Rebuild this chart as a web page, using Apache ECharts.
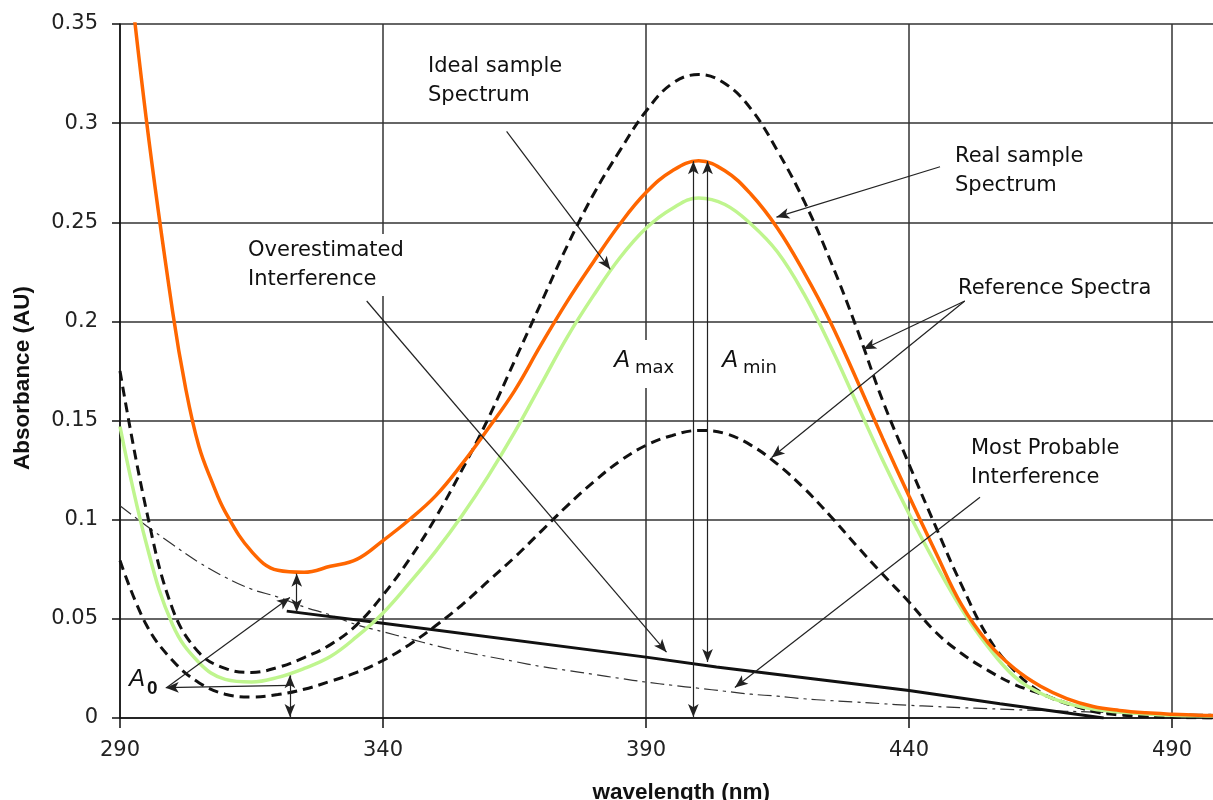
<!DOCTYPE html>
<html><head><meta charset="utf-8">
<script src="https://cdn.jsdelivr.net/npm/echarts@6/dist/echarts.min.js"></script>
<style>html,body{margin:0;padding:0;background:#fff}#c{width:1213px;height:800px}</style>
</head><body><div id="c"></div>
<script>
// ---- data (wavelength nm, absorbance AU) ----
const wavelengths = [290,295,300,305,310,315,320,325,330,335,340,345,350,355,360,365,370,375,380,385,390,395,400,405,410,415,420,425,430,435,440,445,450,455,460,465,470,475,480,485,490,495,500];

const realWl       = [290,295,300,302.5,305,307.5,310,315,320,325,330,335,340,345,350,355,360,365,370,375,380,385,390,395,400,405,410,415,420,425,430,435,440,445,450,455,460,465,470,475,480,485,490,495,500];
const realSample   = [0.42,0.302,0.205,0.166,0.137,0.119,0.104,0.084,0.0745,0.0735,0.0765,0.080,0.0895,0.100,0.112,0.128,0.146,0.165,0.188,0.210,0.230,0.249,0.265,0.276,0.281,0.276,0.264,0.247,0.225,0.200,0.171,0.141,0.112,0.084,0.057,0.038,0.025,0.016,0.0098,0.0058,0.0038,0.0026,0.0019,0.0014,0.0012];

const idealSample  = [0.147,0.088,0.047,0.028,0.0195,0.0182,0.0205,0.025,0.031,0.041,0.053,0.068,0.084,0.102,0.122,0.144,0.168,0.192,0.213,0.232,0.247,0.257,0.2623,0.259,0.249,0.235,0.214,0.188,0.159,0.130,0.103,0.078,0.055,0.036,0.021,0.0125,0.0075,0.0045,0.003,0.002,0.0014,0.0011,0.001];

const refHigh      = [0.175,0.105,0.055,0.033,0.025,0.023,0.0255,0.0305,0.037,0.047,0.062,0.080,0.101,0.125,0.151,0.180,0.209,0.238,0.264,0.286,0.306,0.320,0.3245,0.320,0.307,0.286,0.261,0.231,0.197,0.160,0.128,0.097,0.067,0.041,0.024,0.013,0.0072,0.0038,0.002,0.001,0.0005,0.0002,0.0];

const refLow       = [0.0794,0.047,0.029,0.0178,0.012,0.0106,0.0118,0.0145,0.0185,0.023,0.029,0.037,0.0465,0.057,0.069,0.081,0.094,0.107,0.119,0.1295,0.1375,0.1425,0.145,0.1435,0.1375,0.128,0.116,0.102,0.087,0.0725,0.0585,0.0435,0.0325,0.024,0.017,0.0122,0.0075,0.0033,0.0015,0.0008,0.0003,0.0001,0.0];

const mostProbable = [0.107,0.097,0.0875,0.0785,0.071,0.065,0.061,0.056,0.052,0.047,0.0435,0.040,0.0365,0.0335,0.031,0.0285,0.026,0.024,0.022,0.020,0.0181,0.0165,0.015,0.0135,0.012,0.011,0.0097,0.0088,0.008,0.0072,0.0064,0.0058,0.0052,0.0047,0.0042,0.0038,0.0034,0.003,0.0027,0.0024,0.0021,0.0019,0.0017];

const overWl  = [321.7,340,390,403.4,419.3,440,457.3,477];
const overAbs = [0.0539,0.0478,0.0307,0.0257,0.0206,0.0139,0.0072,0.0];

const yTickLabels = ['0','0.05','0.1','0.15','0.2','0.25','0.3','0.35'];
const xTickLabels = ['290','340','390','440','490'];

// annotation arrows (data coordinates)
const arrowsSingle = [
  [[363.5,0.2959],[383.2,0.2263]],
  [[445.9,0.278],[414.8,0.2526]],
  [[450.6,0.2103],[431.3,0.186]],
  [[450.6,0.2103],[413.9,0.1314]],
  [[453.5,0.1113],[406.9,0.0154]],
  [[336.9,0.2103],[393.9,0.0332]],
  [[298.9,0.0154],[322.3,0.0608]],
  [[322.3,0.0165],[298.7,0.0153]]
];
const arrowsDouble = [
  [[323.6,0.0728],[323.6,0.0534]],
  [[322.3,0.0215],[322.3,0.0005]],
  [[399.0,0.2808],[399.0,0.0005]],
  [[401.7,0.2808],[401.7,0.0282]]
];

function zip(a,b){return a.map((v,i)=>[v,b[i]]);}
const FONT = '"Liberation Sans", Arial, sans-serif';
const TFONT = '"DejaVu Sans", sans-serif';

const chart = echarts.init(document.getElementById('c'), null, {renderer:'canvas'});

const dashed = {color:'#111', width:3, type:[10,6]};
const markLineData = [];
arrowsSingle.forEach(a=>markLineData.push([{coord:a[0],symbol:'none'},{coord:a[1],symbol:'arrow'}]));
arrowsDouble.forEach(a=>markLineData.push([{coord:a[0],symbol:'arrow'},{coord:a[1],symbol:'arrow'}]));

function txt(x,y,text,extra){
  return {type:'text',x:x,y:y,z:100,style:Object.assign({text:text,font:'21px '+TFONT,fill:'#111',lineHeight:29,verticalAlign:'top'},extra||{})};
}
const SM = 0.4;

chart.setOption({
  animation:false,
  backgroundColor:'#fff',
  grid:{left:120,right:-11.6,top:24,bottom:82,containLabel:false,outerBoundsMode:'none'},
  xAxis:{
    type:'value',min:290,max:500,interval:50,
    name:'wavelength (nm)',nameLocation:'middle',nameGap:63,
    nameTextStyle:{fontFamily:FONT,fontWeight:'bold',fontSize:22.5,color:'#111',padding:[0,0,0,18]},
    axisLine:{show:true,lineStyle:{color:'#111',width:1.5}},
    axisTick:{show:true,length:10,lineStyle:{color:'#111',width:1.5}},
    axisLabel:{fontFamily:TFONT,fontSize:21,color:'#222',margin:22,
      formatter:(v)=>{const i=xTickLabels.indexOf(String(Math.round(v)));return i>=0?xTickLabels[i]:'';}},
    splitLine:{show:true,lineStyle:{color:'#333',width:1.5}}
  },
  yAxis:{
    type:'value',min:0,max:0.35,interval:0.05,
    name:'Absorbance (AU)',nameLocation:'middle',nameGap:86,
    nameTextStyle:{fontFamily:FONT,fontWeight:'bold',fontSize:22.5,color:'#111',padding:[0,14,0,0]},
    axisLine:{show:true,lineStyle:{color:'#111',width:1.5}},
    axisTick:{show:true,length:8,lineStyle:{color:'#111',width:1.5}},
    axisLabel:{fontFamily:TFONT,fontSize:21,color:'#222',margin:22,
      formatter:(v)=>yTickLabels[Math.round(v/0.05)]},
    splitLine:{show:true,lineStyle:{color:'#333',width:1.5}}
  },
  series:[
    {type:'line',name:'Most probable interference',data:zip(wavelengths,mostProbable),smooth:SM,showSymbol:false,
      lineStyle:{color:'#333',width:1.2,type:[14,5,3,5]},silent:true},
    {type:'line',name:'Overestimated interference',data:zip(overWl,overAbs),smooth:false,showSymbol:false,
      lineStyle:{color:'#111',width:3},silent:true,
      markLine:{silent:true,animation:false,symbolSize:[8,13],label:{show:false},
        lineStyle:{color:'#222',width:1.2,type:'solid'},emphasis:{disabled:true},data:markLineData}},
    {type:'line',name:'Reference low',data:zip(wavelengths,refLow),smooth:SM,showSymbol:false,lineStyle:dashed,silent:true},
    {type:'line',name:'Reference high',data:zip(wavelengths,refHigh),smooth:SM,showSymbol:false,lineStyle:dashed,silent:true},
    {type:'line',name:'Ideal sample',data:zip(wavelengths,idealSample),smooth:SM,showSymbol:false,
      lineStyle:{color:'#bff58e',width:3.5},silent:true},
    {type:'line',name:'Real sample',data:zip(realWl,realSample),smooth:SM,showSymbol:false,
      lineStyle:{color:'#ff6600',width:3.5},silent:true}
  ],
  graphic:[
    txt(428,52,'Ideal sample\nSpectrum'),
    txt(955,142,'Real sample\nSpectrum'),
    txt(246,234,'Overestimated\nInterference',{backgroundColor:'#fff',padding:[2,2,2,2]}),
    txt(958,274,'Reference Spectra'),
    txt(971,434,'Most Probable\nInterference'),
    {type:'rect',shape:{x:608,y:340,width:70,height:48},style:{fill:'#fff'},z:90},
    txt(614,348,'A',{font:'italic 24px '+FONT,lineHeight:24}),
    txt(635,358,'max',{font:'18px '+TFONT,lineHeight:20}),
    txt(722,348,'A',{font:'italic 24px '+FONT,lineHeight:24}),
    txt(743,358,'min',{font:'18px '+TFONT,lineHeight:20}),
    txt(129,667,'A',{font:'italic 24px '+FONT,lineHeight:24}),
    txt(147,679,'0',{font:'bold 19px '+FONT,lineHeight:19})
  ]
});
</script>
</body></html>
